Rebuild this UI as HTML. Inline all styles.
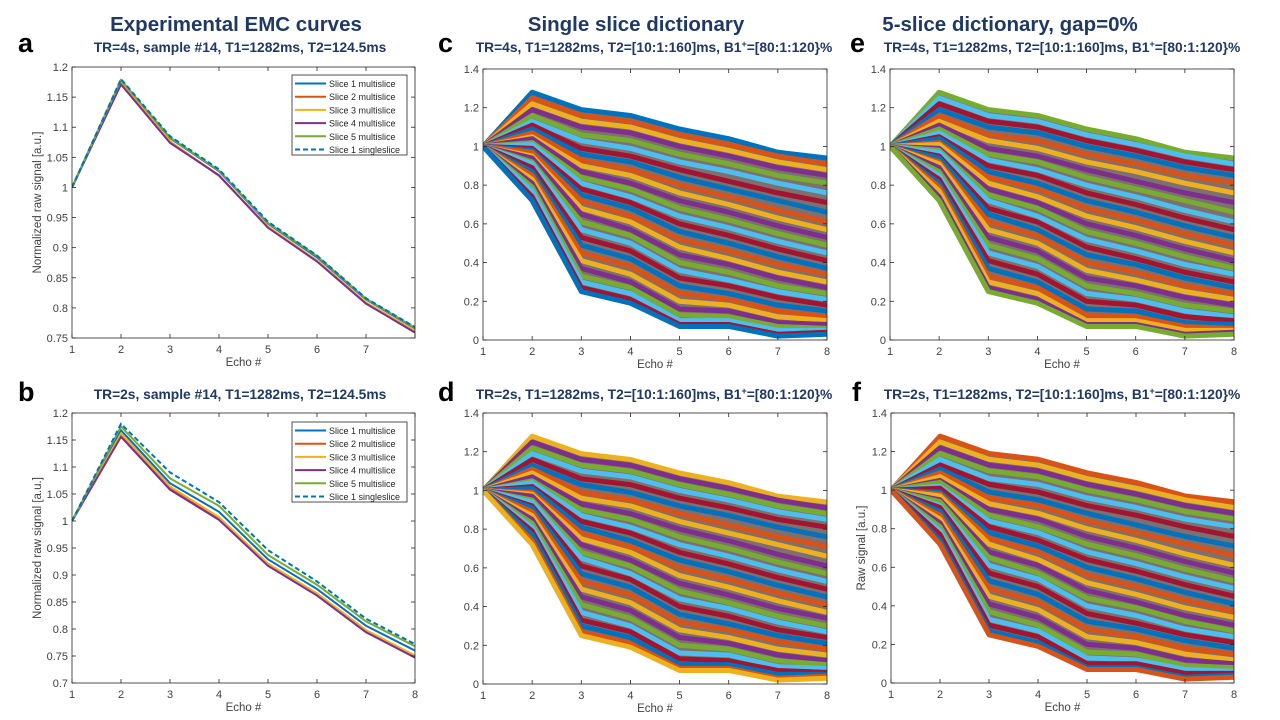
<!DOCTYPE html>
<html><head><meta charset="utf-8">
<style>
html,body{margin:0;padding:0;background:#fff;}
svg{display:block;}
text{font-family:"Liberation Sans",sans-serif;}
</style></head>
<body>
<svg id="fig" width="1280" height="720" viewBox="0 0 1280 720" xmlns="http://www.w3.org/2000/svg">
  <rect width="1280" height="720" fill="#fff"/>
  <g font-weight="bold" fill="#1f3864" font-size="20.5" text-anchor="middle">
    <text x="236" y="31">Experimental EMC curves</text>
    <text x="636" y="31">Single slice dictionary</text>
    <text x="1010" y="31">5-slice dictionary, gap=0%</text>
  </g>
  <g font-weight="bold" fill="#000" font-size="27">
    <text x="18" y="52">a</text>
    <text x="18" y="401">b</text>
    <text x="438" y="52">c</text>
    <text x="438" y="401">d</text>
    <text x="850" y="52">e</text>
    <text x="852" y="401">f</text>
  </g>
  <g font-weight="bold" fill="#1f3864" font-size="13.8" text-anchor="middle">
    <text x="240" y="52">TR=4s, sample #14, T1=1282ms, T2=124.5ms</text>
    <text x="240" y="399">TR=2s, sample #14, T1=1282ms, T2=124.5ms</text>
    <text x="654" y="52">TR=4s, T1=1282ms, T2=[10:1:160]ms,  B1<tspan dy="-5" font-size="9">+</tspan><tspan dy="5">=[80:1:120}%</tspan></text>
    <text x="654" y="399">TR=2s, T1=1282ms, T2=[10:1:160]ms,  B1<tspan dy="-5" font-size="9">+</tspan><tspan dy="5">=[80:1:120}%</tspan></text>
    <text x="1062" y="52">TR=4s, T1=1282ms, T2=[10:1:160]ms,  B1<tspan dy="-5" font-size="9">+</tspan><tspan dy="5">=[80:1:120}%</tspan></text>
    <text x="1062" y="399">TR=2s, T1=1282ms, T2=[10:1:160]ms,  B1<tspan dy="-5" font-size="9">+</tspan><tspan dy="5">=[80:1:120}%</tspan></text>
  </g>
  <g id="plots"></g>
</svg>
<script>
const echoes = [1,2,3,4,5,6,7,8];
const legendLabels = ['Slice 1 multislice','Slice 2 multislice','Slice 3 multislice','Slice 4 multislice','Slice 5 multislice','Slice 1 singleslice'];
const sliceColors = ['#0072BD','#D95319','#EDB120','#7E2F8E','#77AC30','#0072BD'];
const seriesA = [
 [1,1.178,1.082,1.027,0.940,0.884,0.814,0.766],
 [1,1.172,1.076,1.020,0.934,0.878,0.808,0.760],
 [1,1.174,1.077,1.019,0.935,0.879,0.809,0.762],
 [1,1.171,1.074,1.020,0.933,0.877,0.807,0.759],
 [1,1.178,1.083,1.028,0.941,0.886,0.815,0.767],
 [1,1.180,1.085,1.030,0.943,0.887,0.816,0.768]
];
const seriesB = [
 [1,1.168,1.070,1.017,0.929,0.874,0.806,0.760],
 [1,1.160,1.062,1.005,0.920,0.865,0.797,0.750],
 [1,1.162,1.064,1.007,0.921,0.866,0.798,0.751],
 [1,1.156,1.058,1.002,0.917,0.862,0.794,0.747],
 [1,1.175,1.079,1.028,0.937,0.882,0.814,0.768],
 [1,1.180,1.090,1.035,0.946,0.888,0.819,0.772]
];
const ticksA = [0.75,0.8,0.85,0.9,0.95,1,1.05,1.1,1.15,1.2];
const ticksB = [0.7,0.75,0.8,0.85,0.9,0.95,1,1.05,1.1,1.15,1.2];
const ticksDict = [0,0.2,0.4,0.6,0.8,1,1.2,1.4];
const dictCurves = [
 [1,1.28,1.19,1.16,1.09,1.04,0.97,0.94],
 [1,1.25,1.16,1.13,1.06,1.01,0.95,0.91],
 [1,1.22,1.13,1.10,1.03,0.98,0.92,0.88],
 [1,1.19,1.10,1.07,1.00,0.95,0.89,0.85],
 [1,1.16,1.06,1.03,0.96,0.91,0.85,0.81],
 [1,1.13,1.03,0.99,0.92,0.87,0.81,0.76],
 [1,1.11,0.99,0.95,0.88,0.82,0.76,0.71],
 [1,1.09,0.96,0.92,0.84,0.78,0.72,0.66],
 [1,1.07,0.93,0.88,0.80,0.74,0.67,0.61],
 [1,1.05,0.90,0.85,0.76,0.70,0.63,0.57],
 [1,1.04,0.87,0.81,0.72,0.66,0.59,0.53],
 [1,1.02,0.84,0.78,0.68,0.62,0.55,0.49],
 [1,1.01,0.81,0.74,0.64,0.58,0.51,0.45],
 [1,0.99,0.78,0.71,0.60,0.54,0.47,0.41],
 [1,0.98,0.75,0.68,0.56,0.50,0.43,0.37],
 [1,0.97,0.72,0.64,0.52,0.46,0.39,0.34],
 [1,0.95,0.68,0.61,0.48,0.42,0.35,0.30],
 [1,0.94,0.65,0.57,0.44,0.39,0.32,0.27],
 [1,0.92,0.61,0.54,0.40,0.35,0.28,0.24],
 [1,0.91,0.57,0.50,0.36,0.31,0.25,0.21],
 [1,0.89,0.53,0.46,0.32,0.28,0.22,0.18],
 [1,0.87,0.49,0.42,0.28,0.24,0.18,0.15],
 [1,0.85,0.45,0.38,0.24,0.21,0.15,0.12],
 [1,0.83,0.41,0.34,0.20,0.18,0.12,0.10],
 [1,0.81,0.37,0.30,0.16,0.15,0.09,0.08],
 [1,0.79,0.33,0.27,0.13,0.12,0.07,0.06],
 [1,0.77,0.30,0.24,0.10,0.10,0.05,0.05],
 [1,0.74,0.27,0.21,0.08,0.08,0.03,0.04],
 [1,0.72,0.25,0.19,0.07,0.07,0.02,0.03]
];
const dictColors = ['#0072BD','#D95319','#EDB120','#7E2F8E','#77AC30','#4DBEEE','#A2142F'];

const NS = 'http://www.w3.org/2000/svg';
const root = document.getElementById('plots');
function mk(tag, attrs, parent){
  const e = document.createElementNS(NS, tag);
  for (const k in attrs) e.setAttribute(k, attrs[k]);
  (parent||root).appendChild(e);
  return e;
}
function panel(p){
  const g = mk('g', {});
  
  
  const sx = v => p.x0 + (v - 1) / 7 * (p.x1 - p.x0);
  const sy = v => p.y1 - (v - p.ymin) / (p.ymax - p.ymin) * (p.y1 - p.y0);
  const clipId = 'clip' + p.id;
  const cp = mk('clipPath', {id: clipId}, g);
  mk('rect', {x: p.x0, y: p.y0, width: p.x1 - p.x0, height: p.y1 - p.y0}, cp);
  const dg = mk('g', {'clip-path': 'url(#' + clipId + ')'}, g);
  
  
  if (p.dict) {
    const top = p.dict[0], bot = p.dict[p.dict.length - 1];
    let pts = echoes.map((e, i) => sx(e) + ',' + sy(top[i]));
    pts = pts.concat(echoes.slice().reverse().map((e, j) => sx(e) + ',' + sy(bot[7 - j])));
    const fill = mk('polygon', {points: pts.join(' '), fill: '#7f7070'}, dg);
    
    
    p.dict.forEach((c, k) => {
      const l = mk('polyline', {points: echoes.map((e, i) => sx(e) + ',' + sy(c[i])).join(' '), fill: 'none', stroke: dictColors[(k + p.colorOffset) % 7], 'stroke-width': 5, 'stroke-linejoin': 'round'}, dg);
      
      
    });
  } else {
    p.series.forEach((c, k) => {
      const l = mk('polyline', {points: echoes.map((e, i) => sx(e) + ',' + sy(c[i])).join(' '), fill: 'none', stroke: sliceColors[k], 'stroke-width': 2, 'stroke-dasharray': k === 5 ? '5,3' : 'none'}, dg);
      
      
    });
  }
  const box = mk('rect', {x: p.x0, y: p.y0, width: p.x1 - p.x0, height: p.y1 - p.y0, fill: 'none', stroke: '#262626', 'stroke-width': 0.8}, g);
  
  
  p.ticks.forEach(t => {
    const y = sy(t);
    mk('line', {x1: p.x0, x2: p.x0 + 4, y1: y, y2: y, stroke: '#262626', 'stroke-width': 0.8}, g);
    mk('line', {x1: p.x1, x2: p.x1 - 4, y1: y, y2: y, stroke: '#262626', 'stroke-width': 0.8}, g);
    const tl = mk('text', {x: p.x0 - 4, y: y + 4, 'text-anchor': 'end', 'font-size': 11, fill: '#404040'}, g);
    tl.textContent = String(t);
    
    
  });
  echoes.forEach(e => {
    const x = sx(e);
    mk('line', {x1: x, x2: x, y1: p.y1, y2: p.y1 - 4, stroke: '#262626', 'stroke-width': 0.8}, g);
    mk('line', {x1: x, x2: x, y1: p.y0, y2: p.y0 + 4, stroke: '#262626', 'stroke-width': 0.8}, g);
    if (p.hide8 && e === 8) return;
    const xl = mk('text', {x: x, y: p.y1 + 15, 'text-anchor': 'middle', 'font-size': 11, fill: '#404040'}, g);
    xl.textContent = String(e);
    
    
  });
  const xt = mk('text', {x: (p.x0 + p.x1) / 2, y: p.y1 + 28, 'text-anchor': 'middle', 'font-size': 11.5, fill: '#404040'}, g);
  xt.textContent = 'Echo #';
  
  
  if (p.ylabel) {
    const cy = (p.y0 + p.y1) / 2;
    const yt = mk('text', {x: p.ylx, y: cy, 'text-anchor': 'middle', 'font-size': 11.5, fill: '#404040', transform: 'rotate(-90 ' + p.ylx + ' ' + cy + ')'}, g);
    yt.textContent = p.ylabel;
    
    
  }
  if (p.legendY !== undefined) {
    const lg = mk('g', {}, g);
    
    
    mk('rect', {x: 292, y: p.legendY, width: 115, height: 80, fill: '#fff', stroke: '#262626', 'stroke-width': 0.8}, lg);
    legendLabels.forEach((lab, k) => {
      const y = p.legendY + 8.5 + k * 13.2;
      mk('line', {x1: 295, x2: 326, y1: y, y2: y, stroke: sliceColors[k], 'stroke-width': 2, 'stroke-dasharray': k === 5 ? '5,3' : 'none'}, lg);
      const t = mk('text', {x: 329, y: y + 3.5, 'font-size': 9, fill: '#262626'}, lg);
      t.textContent = lab;
      
      
    });
  }
}
panel({id:'a', x0:72, x1:415, y0:67, y1:338, ymin:0.75, ymax:1.2, ticks:ticksA, series:seriesA, hide8:true, ylabel:'Normalized raw signal [a.u.]', ylx:41, legendY:75});
panel({id:'b', x0:72, x1:415, y0:413, y1:683, ymin:0.7, ymax:1.2, ticks:ticksB, series:seriesB, ylabel:'Normalized raw signal [a.u.]', ylx:41, legendY:422});
panel({id:'c', x0:483, x1:827, y0:69, y1:340, ymin:0, ymax:1.4, ticks:ticksDict, dict:dictCurves, colorOffset:0});
panel({id:'d', x0:483, x1:827, y0:413, y1:684, ymin:0, ymax:1.4, ticks:ticksDict, dict:dictCurves, colorOffset:2});
panel({id:'e', x0:890, x1:1234, y0:69, y1:340, ymin:0, ymax:1.4, ticks:ticksDict, dict:dictCurves, colorOffset:4});
panel({id:'f', x0:891, x1:1234, y0:413, y1:683, ymin:0, ymax:1.4, ticks:ticksDict, dict:dictCurves, colorOffset:1, ylabel:'Raw signal [a.u.]', ylx:865});
</script>
</body></html>
